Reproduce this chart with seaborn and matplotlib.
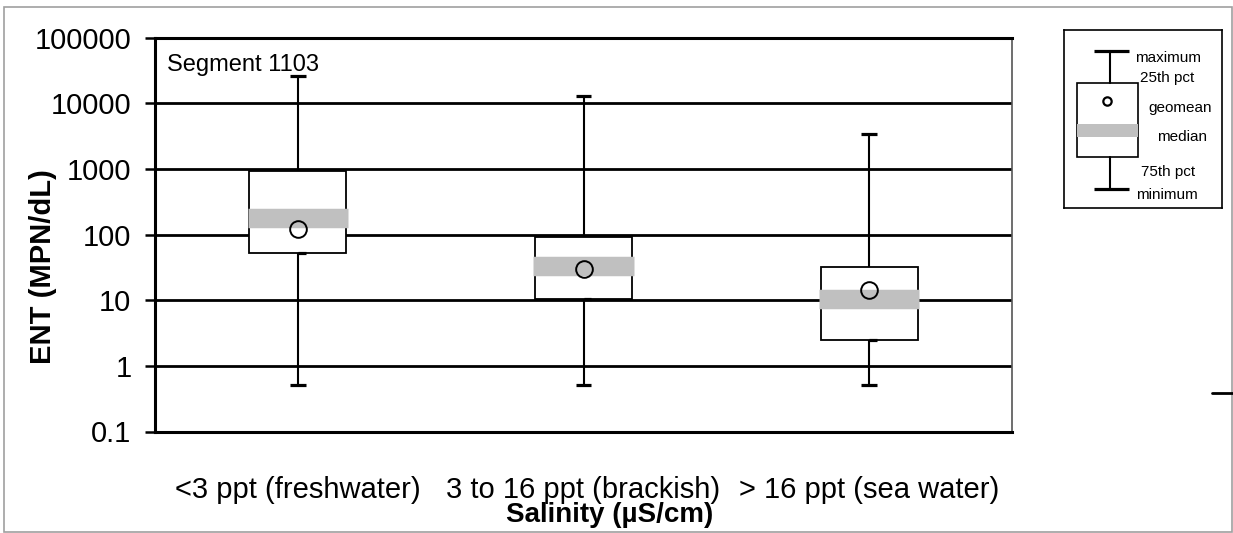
import numpy as np
import pandas as pd
import matplotlib
matplotlib.use("Agg")
import matplotlib.pyplot as plt
import seaborn as sns
from matplotlib.patches import Rectangle
from matplotlib.lines import Line2D

# ---------------- data ----------------
categories = ["<3 ppt (freshwater)", "3 to 16 ppt (brackish)", "> 16 ppt (sea water)"]
minimum = [0.52, 0.52, 0.52]
pct25 = [53, 10.3, 2.5]
median = [179, 32.7, 10.6]
pct75 = [920, 92.5, 31.6]
maximum = [26000, 12900, 3400]
geomean = [120, 29.5, 14.3]
ytick_values = [0.1, 1, 10, 100, 1000, 10000, 100000]
ytick_labels = ["0.1", "1", "10", "100", "1000", "10000", "100000"]
legend_labels = ["maximum", "25th pct", "geomean", "median", "75th pct", "minimum"]

sns.set_theme(style="white")
plt.rcParams["font.family"] = ["Liberation Sans", "DejaVu Sans"]

W, H = 1233, 533
fig = plt.figure(figsize=(W / 100, H / 100), dpi=100)

def fx(px):
    return px / W

def fy(py):
    return 1 - py / H

ax_l, ax_r, ax_t, ax_b = 155, 1012, 37.7, 431.5
ax = fig.add_axes([fx(ax_l), fy(ax_b), fx(ax_r - ax_l), (ax_b - ax_t) / H])

# long-form table: five summary points per group reproduce the box statistics exactly
rows = []
for i, c in enumerate(categories):
    for v in (minimum[i], pct25[i], median[i], pct75[i], maximum[i]):
        rows.append({"Salinity": c, "ENT": v})
df = pd.DataFrame(rows)

sns.boxplot(
    data=df, x="Salinity", y="ENT", order=categories, ax=ax,
    log_scale=True, whis=(0, 100), width=0.34, color="white",
    linecolor="black", linewidth=1.3, fliersize=0,
    medianprops=dict(color="#C0C0C0", linewidth=14, solid_capstyle="butt"),
    whiskerprops=dict(color="black", linewidth=1.5),
    capprops=dict(color="black", linewidth=2.3, solid_capstyle="butt"),
)

# narrow caps like the original
cap_half = 0.028
for line in ax.lines:
    xd = np.asarray(line.get_xdata(), dtype=float)
    yd = np.asarray(line.get_ydata(), dtype=float)
    if len(xd) == 2 and yd[0] == yd[1] and 2 < line.get_linewidth() < 3:
        c = xd.mean()
        line.set_xdata([c - cap_half, c + cap_half])
    elif len(xd) == 2 and line.get_linewidth() > 10:
        # median band reaches slightly past the box edges
        c = xd.mean()
        half = (xd[1] - xd[0]) / 2 + 0.006
        line.set_xdata([c - half, c + half])

pos = np.arange(len(categories))
# small marker at the lower box edge
for i in pos:
    ax.plot([i, i + 0.028], [pct25[i], pct25[i]], color="black", lw=2.3,
            solid_capstyle="butt", zorder=4)

# geometric mean markers
ax.plot(pos, geomean, linestyle="none", marker="o", markersize=12,
        markerfacecolor="none", markeredgecolor="black", markeredgewidth=1.4, zorder=6)

ax.set_yscale("log")
ax.set_ylim(0.1, 100000)
ax.set_xlim(-0.5, len(categories) - 0.5)
ax.set_yticks(ytick_values)
ax.set_yticklabels(ytick_labels)
ax.yaxis.set_minor_locator(matplotlib.ticker.NullLocator())
ax.grid(axis="y", which="major", color="black", linewidth=2.0)
ax.set_axisbelow(True)

ax.set_xticks(pos)
ax.set_xticklabels(categories)
ax.set_xticks(np.arange(len(categories) + 1) - 0.5, minor=True)
ax.tick_params(axis="x", which="major", length=0, pad=32, labelsize=21, colors="black")
ax.tick_params(axis="x", which="minor", length=7, width=2.0, direction="out", color="black")
ax.tick_params(axis="y", which="major", length=7, width=1.8, direction="out", pad=10,
               labelsize=21, colors="black", left=True)

for s in ["left", "bottom", "top"]:
    ax.spines[s].set_color("black")
    ax.spines[s].set_linewidth(2.2)
ax.spines["right"].set_color("#555555")
ax.spines["right"].set_linewidth(1.2)

ax.set_xlabel("Salinity (µS/cm)", fontsize=20, fontweight="bold", color="black")
ax.set_ylabel("ENT (MPN/dL)", fontsize=21, fontweight="bold", color="black")
ax.xaxis.set_label_coords((610 - ax_l) / (ax_r - ax_l), -(502 - ax_b) / (ax_b - ax_t))
ax.yaxis.set_label_coords(-(155 - 57) / (ax_r - ax_l), 1 - (267 - ax_t) / (ax_b - ax_t))

fig.text(fx(167), fy(65), "Segment 1103", fontsize=17, va="center", ha="left", color="black")

# ---------------- legend key ----------------
lg_l, lg_r, lg_t, lg_b = 1064, 1222, 30, 208
lax = fig.add_axes([fx(lg_l), fy(lg_b), fx(lg_r - lg_l), (lg_b - lg_t) / H])
lax.set_xlim(lg_l, lg_r)
lax.set_ylim(lg_b, lg_t)
lax.set_xticks([])
lax.set_yticks([])
for s in lax.spines.values():
    s.set_color("black")
    s.set_linewidth(1.2)
lax.set_facecolor("white")
lax.plot([1110, 1110], [51, 83], color="black", lw=1.5)
lax.plot([1110, 1110], [157, 189], color="black", lw=1.5)
lax.plot([1094, 1129], [51, 51], color="black", lw=2.3, solid_capstyle="butt")
lax.plot([1094, 1129], [189, 189], color="black", lw=2.3, solid_capstyle="butt")
lax.add_patch(Rectangle((1077, 83), 61, 74, facecolor="white", edgecolor="black", lw=1.2))
lax.add_patch(Rectangle((1077, 124), 61, 13, facecolor="#C0C0C0", edgecolor="none"))
lax.plot([1107], [101], marker="o", markersize=6, markerfacecolor="none",
         markeredgecolor="black", markeredgewidth=1.6)
leg_pos = [(1135, 58), (1140, 78), (1148, 108), (1157, 137), (1141, 172), (1136, 195)]
for lab, (x, y) in zip(legend_labels, leg_pos):
    lax.text(x, y, lab, fontsize=11, ha="left", va="center", color="black")

# stray tick on the right edge and figure border
fig.add_artist(Line2D([fx(1212), fx(1233)], [fy(393), fy(393)], color="black", lw=2.0))
fig.add_artist(Rectangle((fx(4), fy(532)), fx(1228), (532 - 7) / H, transform=fig.transFigure,
                         fill=False, edgecolor="#A0A0A0", lw=1.2))

fig.savefig("out.png", dpi=100)
